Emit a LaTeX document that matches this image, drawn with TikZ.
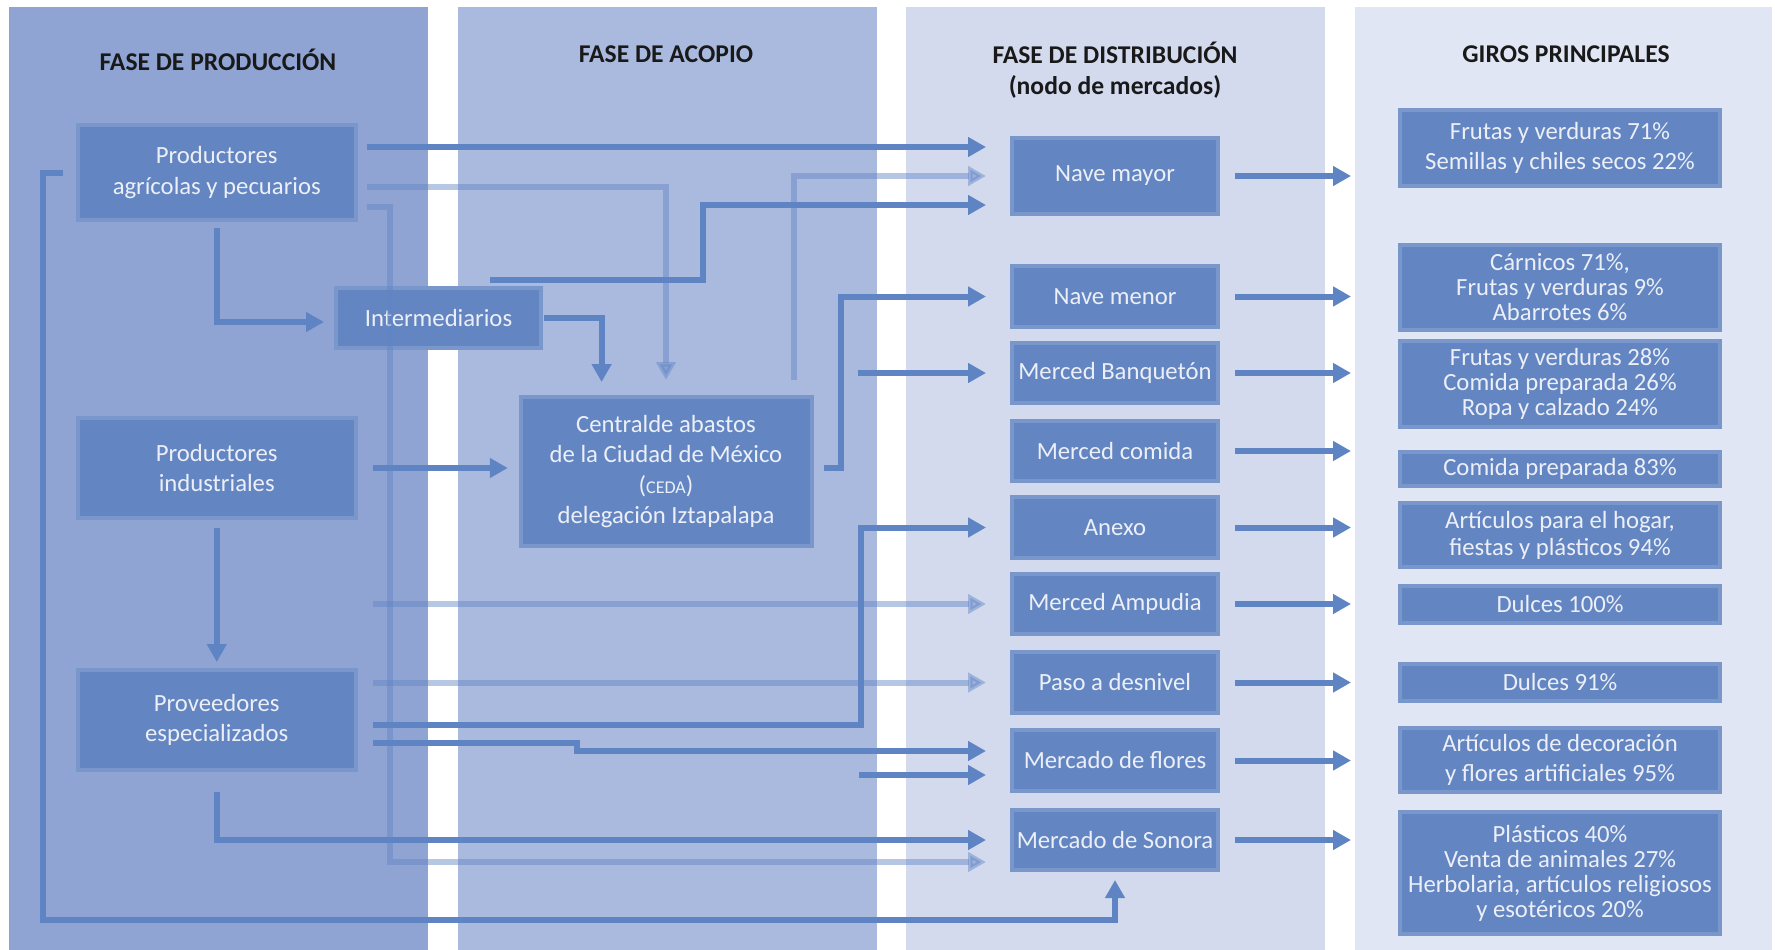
\documentclass[tikz,border=0pt]{standalone}
\usepackage{fontspec}
\setmainfont{Carlito}
\usetikzlibrary{arrows.meta,calc}
\definecolor{fondoA}{RGB}{143,164,210}
\definecolor{fondoB}{RGB}{170,186,223}
\definecolor{fondoC}{RGB}{211,218,238}
\definecolor{fondoD}{RGB}{225,230,244}
\definecolor{azul}{RGB}{99,134,194}
\definecolor{flecha}{RGB}{95,132,196}
\definecolor{texto}{RGB}{236,239,247}
\tikzset{caja/.style = {fill=azul, draw=azul!86!white, line width=4pt, text=texto, align=center,
                        inner sep=0pt, outer sep=0pt, font=\fontsize{24.7}{30.6}\selectfont},
         nodo/.style = {caja, minimum width=206pt},
         giro/.style = {caja, minimum width=320pt, font=\fontsize{24.7}{25}\selectfont},
         titulo/.style = {font=\bfseries\fontsize{25.6}{30.6}\selectfont, text=black!90, align=center},
         flujo/.style = {draw=flecha, line width=6pt, line join=miter, -{Triangle[length=18pt,width=19pt]}},
         flujoclaro/.style = {flujo, opacity=.45}}

\begin{document}
\begin{tikzpicture}[x=1pt, y=-1pt]
\useasboundingbox (0,0) rectangle (1775,950);
\fill[white] (0,0) rectangle (1775,950);
% fases
\fill[fondoA] (8.6,7) rectangle (428,950);
\fill[fondoB] (457.5,7) rectangle (876.6,950);
\fill[fondoC] (905.8,7) rectangle (1325,950);
\fill[fondoD] (1355,7) rectangle (1772,950);

\node[titulo] (t1) at (218,60) {FASE DE PRODUCCIÓN};
\node[titulo] (t2) at (666,54) {FASE DE ACOPIO};
\node[titulo] (t3) at (1115,70) {FASE DE DISTRIBUCIÓN\\(nodo de mercados)};
\node[titulo] (t4) at (1566,54) {GIROS PRINCIPALES};

% produccion y acopio
\node[caja, minimum width=278.5pt, minimum height=95pt] (pa) at (216.75,172.5) {Productores\\agrícolas y pecuarios};
\node[caja, minimum width=278.5pt, minimum height=100pt] (pi) at (216.75,468) {Productores\\industriales};
\node[caja, minimum width=278.5pt, minimum height=100pt] (pe) at (216.75,720) {Proveedores\\especializados};
\node[caja, minimum width=205pt, minimum height=60pt] (inter) at (438.5,318) {Intermediarios};
\node[caja, minimum width=291pt, minimum height=149pt] (ceda) at (666,471.5) {Centralde abastos\\de la Ciudad de México\\({\fontsize{18}{18}\selectfont CEDA})\\delegación Iztapalapa};

% mercados
\node[nodo, minimum height=76pt] (nm) at (1115,176) {Nave mayor};
\node[nodo, minimum height=61pt] (nme) at (1115,296.5) {Nave menor};
\node[nodo, minimum height=60pt] (mb) at (1115,373) {Merced Banquetón};
\node[nodo, minimum height=60pt] (mc) at (1115,451) {Merced comida};
\node[nodo, minimum height=61pt] (an) at (1115,527.5) {Anexo};
\node[nodo, minimum height=60pt] (ma) at (1115,604) {Merced Ampudia};
\node[nodo, minimum height=61pt] (pd) at (1115,682.5) {Paso a desnivel};
\node[nodo, minimum height=61pt] (mf) at (1115,760.5) {Mercado de flores};
\node[nodo, minimum height=60pt] (ms) at (1115,840) {Mercado de Sonora};

% giros
\node[giro, minimum height=76pt, font=\fontsize{24.7}{30.6}\selectfont] (g1) at (1560,148) {Frutas y verduras 71\%\\Semillas y chiles secos 22\%};
\node[giro, minimum height=85pt] (g2) at (1560,287.5) {Cárnicos 71\%,\\Frutas y verduras 9\%\\Abarrotes 6\%};
\node[giro, minimum height=86pt] (g3) at (1560,384) {Frutas y verduras 28\%\\Comida preparada 26\%\\Ropa y calzado 24\%};
\node[giro, minimum height=34pt] (g4) at (1560,469) {Comida preparada 83\%};
\node[giro, minimum height=64pt, font=\fontsize{24.7}{27}\selectfont] (g5) at (1560,535) {Artículos para el hogar,\\fiestas y plásticos 94\%};
\node[giro, minimum height=37pt] (g6) at (1560,604.5) {Dulces 100\%};
\node[giro, minimum height=37pt] (g7) at (1560,682.5) {Dulces 91\%};
\node[giro, minimum height=64pt, font=\fontsize{24.7}{30.6}\selectfont] (g8) at (1560,760) {Artículos de decoración\\y flores artificiales 95\%};
\node[giro, minimum height=122pt] (g9) at (1560,873) {Plásticos 40\%\\Venta de animales 27\%\\Herbolaria, artículos religiosos\\y esotéricos 20\%};

\coordinate (fa) at (859,775);
\coordinate (fb) at (858,373);

% flujos claros
\draw[flujoclaro] ([xshift=11pt,yshift=-14.5pt]pa.east) -| ([yshift=17pt]ceda.north);
\draw[flujoclaro] ([xshift=-18pt,yshift=17pt]ceda.north east) |- ([xshift=-26pt]nm.west);
\draw[flujoclaro] ([xshift=11pt,yshift=-34.5pt]pa.east) -- ++(23,0) |- ([xshift=-26pt,yshift=-22pt]ms.west);
\draw[flujoclaro] ($(ma.west -| pe.east)+(17,0)$) -- ([xshift=-26pt]ma.west);
\draw[flujoclaro] ($(pd.west -| pe.east)+(17,0)$) -- ([xshift=-26pt]pd.west);

% flujos
\draw[flujo] ([xshift=11pt,yshift=25.5pt]pa.east) -- ([xshift=-26pt,yshift=29pt]nm.west);
\draw[flujo] ([xshift=51.5pt,yshift=8pt]inter.north) -- ++(213,0) |- ([xshift=-26pt,yshift=-29pt]nm.west);
\draw[flujo] ([xshift=3pt]inter.east) -| ([xshift=-64.4pt,yshift=15pt]ceda.north);
\draw[flujo] ([yshift=-8pt]pa.south) |- ([xshift=-12pt,yshift=-4pt]inter.west);
\draw[flujo] ([xshift=-14.5pt]pa.west) -- ++(-20,0) |- ([yshift=-50pt]ms.south) -- ([yshift=-10pt]ms.south);
\draw[flujo] ([yshift=-22pt]pe.south) |- ([xshift=-26pt]ms.west);
\draw[flujo] ([xshift=17pt]pi.east) -- ([xshift=-12.7pt,yshift=3.5pt]ceda.west);
\draw[flujo] ([yshift=-10pt]pi.south) -- ([yshift=8pt]pe.north);
\draw[flujo] ([xshift=17pt,yshift=-5pt]pe.east) -- ++(488,0) |- ([xshift=-26pt]an.west);
\draw[flujo] ([xshift=17pt,yshift=-23pt]pe.east) -- ++(204,0) -- ++(0,8) -- ([xshift=-26pt,yshift=9.5pt]mf.west);
\draw[flujo] (fa) -- ([xshift=-26pt,yshift=-14.5pt]mf.west);
\draw[flujo] (fb) -- ([xshift=-26pt]mb.west);
\draw[flujo] ([xshift=12pt,yshift=3.5pt]ceda.east) -- ++(17,0) |- ([xshift=-26pt]nme.west);

\foreach \d/\g in {nm/g1, nme/g2, mb/g3, mc/g4, an/g5, ma/g6, pd/g7, mf/g8, ms/g9}
  \draw[flujo] ([xshift=17pt]\d.east) -- ($(\d.east -| \g.west)+(-49,0)$);
\end{tikzpicture}
\end{document}
